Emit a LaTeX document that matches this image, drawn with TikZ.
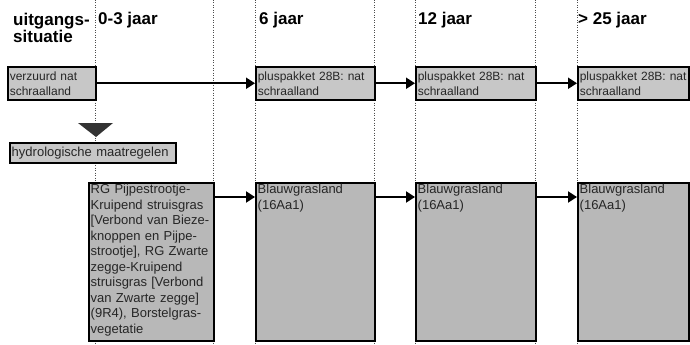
\documentclass[tikz,border=0pt]{standalone}
\usepackage{fontspec}
\setmainfont{Liberation Sans}
\usetikzlibrary{arrows.meta,positioning}

\begin{document}
\begin{tikzpicture}[x=1pt,y=-1pt,
head/.style={anchor=base west,inner sep=0pt,align=left,font=\fontsize{17}{17}\selectfont\bfseries},
box/.style={draw,line width=1.5pt,fill=black!22,anchor=north west,inner xsep=2pt,inner ysep=1pt,align=left,font=\fontsize{12}{15}\selectfont,text=black!85},
tallbox/.style={box,fill=black!28,minimum height=158pt},
inbox/.style={anchor=north west,inner xsep=2.5pt,inner ysep=2pt,align=left,font=\fontsize{13}{15.5}\selectfont,text=black!85},
arrow/.style={-{Triangle[length=9pt,width=11pt]},line width=2pt},
guide/.style={dotted,line width=0.5pt,black!70}
]
\useasboundingbox (0,0) rectangle (690,345);
% time columns
\foreach \gx in {95,213,255,374,415,535,577}
  \draw[guide] (\gx,0) -- (\gx,345);
\node[head] (h0) at (13,42) {uitgangs-\\situatie};
\node[head] (h1) at (98,25) {0-3 jaar};
\node[head] (h2) at (259,25) {6 jaar};
\node[head] (h3) at (418,25) {12 jaar};
\node[head] (h4) at (578,25) {> 25 jaar};
% upper row
\node[box,text width=84pt,minimum height=33pt] (start) at (7,66) {verzuurd nat\\schraalland};
\node[box,text width=115pt,minimum height=33pt] (plus6) at (255,66) {pluspakket 28B: nat\\schraalland};
\node[box,text width=116pt,minimum height=33pt] (plus12) at (415,66) {pluspakket 28B: nat\\schraalland};
\node[box,text width=107pt,minimum height=33pt] (plus25) at (577,66) {pluspakket 28B: nat\\schraalland};
\draw[arrow] (start) -- (plus6);
\draw[arrow] (plus6) -- (plus12);
\draw[arrow] (plus12) -- (plus25);
% measures
\fill[black!80] (78,123) -- (113,123) -- (96,137) -- cycle;
\node[box,text width=162pt,minimum height=20pt,inner ysep=0pt,font=\fontsize{13}{15}\selectfont] (hydro) at (9,142) {hydrologische maatregelen};
% lower row
\node[tallbox,text width=121pt] (rg) at (88,182) {};
\node[inbox,text width=121pt] (rgtext) at (rg.north west) {RG Pijpestrootje-\\Kruipend struisgras\\{[}Verbond van Bieze-\\knoppen en Pijpe-\\strootje], RG Zwarte\\zegge-Kruipend\\struisgras [Verbond\\van Zwarte zegge]\\(9R4), Borstelgras-\\vegetatie};
\node[tallbox,text width=115pt] (blauw6) at (255,182) {};
\node[tallbox,text width=116pt] (blauw12) at (415,182) {};
\node[tallbox,text width=107pt] (blauw25) at (577,182) {};
\node[inbox] (b6text) at (blauw6.north west) {Blauwgrasland\\(16Aa1)};
\node[inbox] (b12text) at (blauw12.north west) {Blauwgrasland\\(16Aa1)};
\node[inbox] (b25text) at (blauw25.north west) {Blauwgrasland\\(16Aa1)};
\draw[arrow] ([yshift=-15pt]rg.north east) -- ([yshift=-15pt]blauw6.north west);
\draw[arrow] ([yshift=-15pt]blauw6.north east) -- ([yshift=-15pt]blauw12.north west);
\draw[arrow] ([yshift=-15pt]blauw12.north east) -- ([yshift=-15pt]blauw25.north west);
\end{tikzpicture}
\end{document}
